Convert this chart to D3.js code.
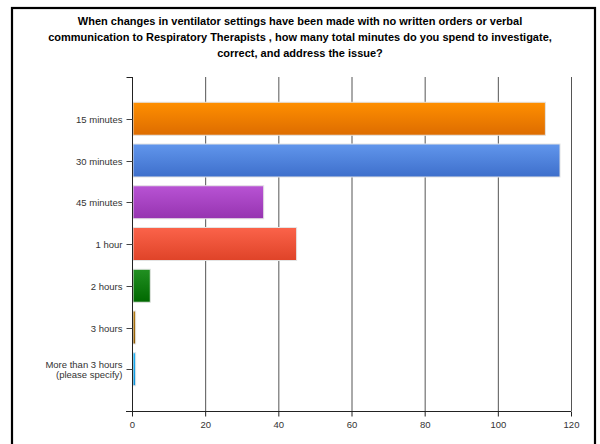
<!DOCTYPE html>
<html>
<head>
<meta charset="utf-8">
<script src="https://cdn.jsdelivr.net/npm/d3@7/dist/d3.min.js"></script>
<style>
  html, body { margin: 0; padding: 0; background: #fff; }
  svg { display: block; }
</style>
</head>
<body>
<script>
// Survey responses: minutes spent fixing undocumented ventilator changes
const categories = ["15 minutes", "30 minutes", "45 minutes", "1 hour", "2 hours", "3 hours", "More than 3 hours\n(please specify)"];
const counts = [113, 117, 36, 45, 5, 1, 1];
const barTop = ["#ff8f00", "#6196ec", "#b853d4", "#fb634a", "#229022", "#b47c12", "#1cb2f5"];
const barBottom = ["#dd6c00", "#3e6fcb", "#9634b0", "#df4328", "#006800", "#8d5800", "#0a8fd6"];
const xTicks = [0, 20, 40, 60, 80, 100, 120];
const titleLines = [
  "When changes in ventilator settings have been made with no written orders or verbal",
  "communication to Respiratory Therapists , how many total minutes do you spend to investigate,",
  "correct, and address the issue?"
];

const W = 600, H = 444;
const svg = d3.select("body").append("svg").attr("width", W).attr("height", H);

// Outer frame
svg.append("rect")
  .attr("x", 12).attr("y", 8).attr("width", 583).attr("height", 460)
  .attr("fill", "none").attr("stroke", "#000").attr("stroke-width", 2.2);

// Title
svg.append("g").selectAll("text").data(titleLines).join("text")
  .attr("x", 300).attr("y", (d, i) => 25 + i * 16)
  .attr("text-anchor", "middle")
  .attr("font-family", "Liberation Sans, Arial, sans-serif")
  .attr("font-weight", "bold").attr("font-size", 11).attr("fill", "#000")
  .text(d => d);

const plot = { left: 132, right: 571, top: 77, bottom: 411 };

const x = d3.scaleLinear().domain([0, 120]).range([plot.left, plot.right]);
const y = d3.scalePoint().domain(categories).range([plot.top, plot.bottom]).padding(1);
const barH = 33;

// Gradients for bar fills
const defs = svg.append("defs");
categories.forEach((c, i) => {
  const g = defs.append("linearGradient").attr("id", "grad" + i)
    .attr("x1", 0).attr("y1", 0).attr("x2", 0).attr("y2", 1);
  g.append("stop").attr("offset", "0%").attr("stop-color", barTop[i]);
  g.append("stop").attr("offset", "100%").attr("stop-color", barBottom[i]);
});

// Vertical gridlines
svg.append("g").selectAll("line").data(xTicks.slice(1)).join("line")
  .attr("x1", d => x(d) + 0.5).attr("x2", d => x(d) + 0.5)
  .attr("y1", plot.top).attr("y2", plot.bottom)
  .attr("stroke", "#555").attr("stroke-width", 1);

// Bars
svg.append("g").selectAll("rect").data(categories).join("rect")
  .attr("x", x(0) + 1)
  .attr("y", d => y(d) - barH / 2)
  .attr("width", (d, i) => Math.max(0, x(counts[i]) - x(0) - 1))
  .attr("height", barH)
  .attr("fill", (d, i) => `url(#grad${i})`)
  .attr("stroke", "#e4e4e4").attr("stroke-width", 1);

// Y axis
const yAxis = svg.append("g").attr("transform", `translate(${plot.left + 0.5},0)`);
yAxis.append("line").attr("x1", 0).attr("x2", 0).attr("y1", plot.top).attr("y2", plot.bottom)
  .attr("stroke", "#222");
yAxis.append("line").attr("x1", -6).attr("x2", 0).attr("y1", plot.top + 0.5).attr("y2", plot.top + 0.5)
  .attr("stroke", "#222");
const yt = yAxis.selectAll("g.tick").data(categories).join("g")
  .attr("class", "tick").attr("transform", d => `translate(0,${Math.round(y(d)) + 0.5})`);
yt.append("line").attr("x1", -6).attr("x2", 0).attr("stroke", "#444");
yt.append("text")
  .attr("x", -10).attr("text-anchor", "end")
  .attr("font-family", "Liberation Sans, Arial, sans-serif")
  .attr("font-size", 9.5).attr("fill", "#333")
  .each(function (d) {
    const lines = d.split("\n");
    const t = d3.select(this);
    lines.forEach((ln, j) => {
      t.append("tspan").attr("x", -10)
        .attr("dy", j === 0 ? (0.35 - (lines.length - 1) * 0.55) + "em" : "1.1em")
        .text(ln);
    });
  });

// X axis
const xAxis = svg.append("g").attr("transform", `translate(0,${plot.bottom + 0.5})`);
xAxis.append("line").attr("x1", plot.left - 6).attr("x2", plot.right).attr("y1", 0).attr("y2", 0)
  .attr("stroke", "#222");
const xt = xAxis.selectAll("g.tick").data(xTicks).join("g")
  .attr("class", "tick").attr("transform", d => `translate(${x(d) + 0.5},0)`);
xt.append("line").attr("y1", 0).attr("y2", 5).attr("stroke", "#222");
xt.append("text").attr("y", 16).attr("text-anchor", "middle")
  .attr("font-family", "Liberation Sans, Arial, sans-serif")
  .attr("font-size", 9.5).attr("fill", "#333")
  .text(d => d);
</script>
</body>
</html>
